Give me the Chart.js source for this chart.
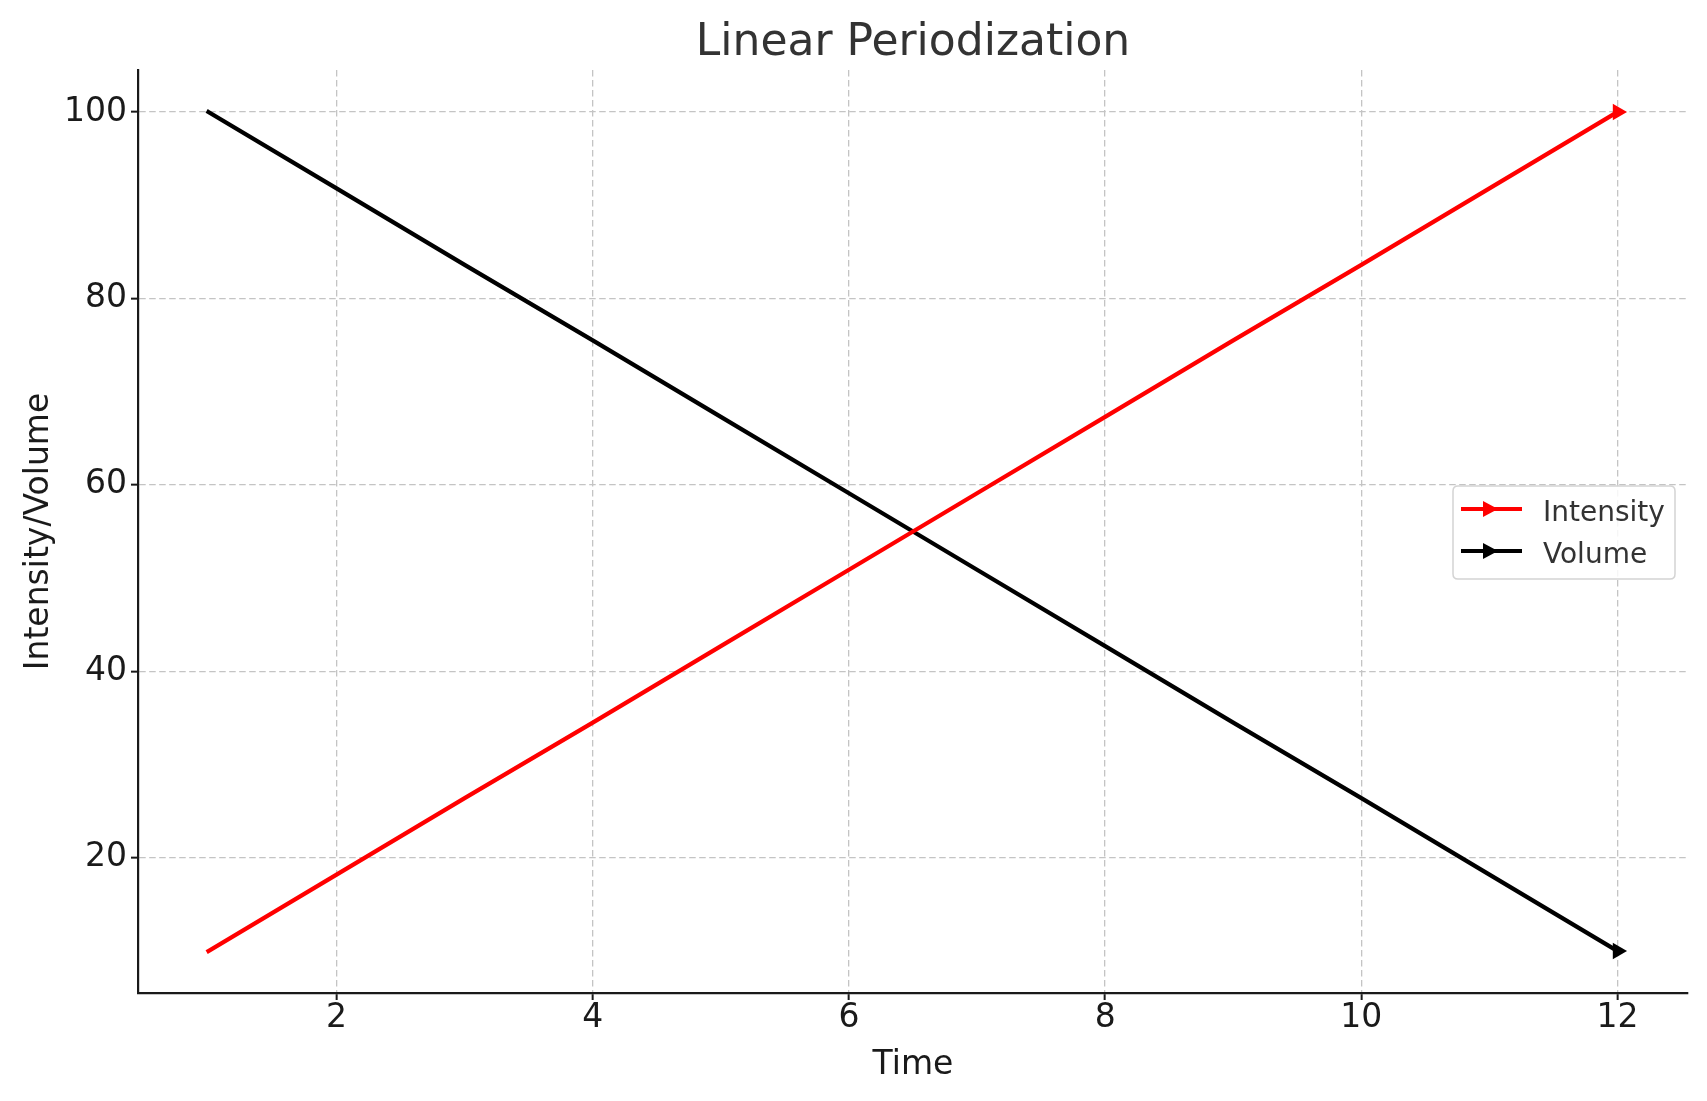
<!DOCTYPE html>
<html>
<head>
<meta charset="utf-8">
<script src="https://cdn.jsdelivr.net/npm/chart.js@4.4.1/dist/chart.umd.min.js"></script>
<style>
  html, body { margin: 0; padding: 0; background: #ffffff; }
  #wrap { width: 1707px; height: 1101px; }
</style>
</head>
<body>
<div id="wrap"><canvas id="c" width="1707" height="1101"></canvas></div>
<script>
// ---- data ----
const timePoints = [1, 2, 3, 4, 5, 6, 7, 8, 9, 10, 11, 12];
const intensity = [10, 18.2, 26.4, 34.5, 42.7, 50.9, 59.1, 67.3, 75.5, 83.6, 91.8, 100];
const volume = [100, 91.8, 83.6, 75.5, 67.3, 59.1, 50.9, 42.7, 34.5, 26.4, 18.2, 10];
const xTickValues = [2, 4, 6, 8, 10, 12];
const yTickValues = [20, 40, 60, 80, 100];
const seriesNames = ['Intensity', 'Volume'];
const seriesColors = ['#ff0000', '#000000'];
const titleText = 'Linear Periodization';
const xTitle = 'Time';
const yTitle = 'Intensity/Volume';

const FONT = "'DejaVu Sans', sans-serif";
const lastIdx = timePoints.length - 1;

function toPoints(vals) { return timePoints.map((t, i) => ({ x: t, y: vals[i] })); }

function makeDataset(label, vals, color) {
  return {
    label: label,
    data: toPoints(vals),
    borderColor: color,
    backgroundColor: color,
    borderWidth: 4.2,
    borderCapStyle: 'square',
    tension: 0,
    fill: false,
    pointStyle: 'triangle',
    rotation: 90,
    pointRadius: (ctx) => ctx.dataIndex === lastIdx ? 9.5 : 0,
    pointHoverRadius: (ctx) => ctx.dataIndex === lastIdx ? 9.5 : 0,
    pointBackgroundColor: color,
    pointBorderColor: color,
    pointBorderWidth: 0
  };
}

// title centred over the plot area (like matplotlib's axes title)
const titlePlugin = {
  id: 'axesTitle',
  afterDraw(chart) {
    const ctx = chart.ctx;
    const a = chart.chartArea;
    ctx.save();
    ctx.fillStyle = '#333333';
    ctx.font = '44px ' + FONT;
    ctx.textAlign = 'center';
    ctx.textBaseline = 'alphabetic';
    ctx.fillText(titleText, (a.left + a.right) / 2, 55);
    ctx.restore();
  }
};

// custom legend drawn from the chart's datasets
const legendPlugin = {
  id: 'mplLegend',
  afterDatasetsDraw(chart) {
    const ctx = chart.ctx;
    const x0 = 1453, y0 = 486, w = 222, h = 93, r = 5;
    ctx.save();
    ctx.beginPath();
    ctx.moveTo(x0 + r, y0);
    ctx.lineTo(x0 + w - r, y0);
    ctx.quadraticCurveTo(x0 + w, y0, x0 + w, y0 + r);
    ctx.lineTo(x0 + w, y0 + h - r);
    ctx.quadraticCurveTo(x0 + w, y0 + h, x0 + w - r, y0 + h);
    ctx.lineTo(x0 + r, y0 + h);
    ctx.quadraticCurveTo(x0, y0 + h, x0, y0 + h - r);
    ctx.lineTo(x0, y0 + r);
    ctx.quadraticCurveTo(x0, y0, x0 + r, y0);
    ctx.closePath();
    ctx.fillStyle = 'rgba(255,255,255,0.85)';
    ctx.fill();
    ctx.lineWidth = 1.5;
    ctx.strokeStyle = '#d4d4d4';
    ctx.stroke();
    chart.data.datasets.forEach((ds, i) => {
      const cy = 509 + i * 42;
      ctx.strokeStyle = ds.borderColor;
      ctx.lineWidth = 4.2;
      ctx.lineCap = 'butt';
      ctx.beginPath();
      ctx.moveTo(1461, cy);
      ctx.lineTo(1522, cy);
      ctx.stroke();
      ctx.fillStyle = ds.borderColor;
      ctx.beginPath();
      ctx.moveTo(1483, cy - 8);
      ctx.lineTo(1498, cy);
      ctx.lineTo(1483, cy + 8);
      ctx.closePath();
      ctx.fill();
      ctx.fillStyle = '#333333';
      ctx.font = '28px ' + FONT;
      ctx.textBaseline = 'alphabetic';
      ctx.textAlign = 'left';
      ctx.fillText(ds.label, 1543, cy + 12);
    });
    ctx.restore();
  }
};

const chart = new Chart(document.getElementById('c'), {
  type: 'line',
  data: {
    datasets: [
      makeDataset(seriesNames[0], intensity, seriesColors[0]),
      makeDataset(seriesNames[1], volume, seriesColors[1])
    ]
  },
  options: {
    responsive: false,
    animation: false,
    devicePixelRatio: 1,
    layout: { padding: { left: 0, right: 19, top: 70, bottom: 0 } },
    plugins: {
      legend: { display: false },
      tooltip: { enabled: false },
      title: { display: false }
    },
    scales: {
      x: {
        type: 'linear',
        min: 0.45,
        max: 12.55,
        afterBuildTicks: (s) => { s.ticks = xTickValues.map(v => ({ value: v })); },
        afterFit: (s) => { s.height = 108; },
        ticks: {
          color: '#1a1a1a',
          font: { family: FONT, size: 33, lineHeight: 1 },
          padding: 2,
          maxRotation: 0,
          autoSkip: false,
          callback: (v) => String(v)
        },
        grid: {
          color: '#c4c4c4',
          lineWidth: 1.3,
          tickColor: '#1a1a1a',
          tickLength: 7,
          tickWidth: 2,
          tickBorderDash: []
        },
        border: { display: true, color: '#1a1a1a', width: 2.2, dash: [6.5, 3.5] },
        title: {
          display: true,
          text: xTitle,
          color: '#1a1a1a',
          font: { family: FONT, size: 33, lineHeight: 1.2 },
          padding: { top: 0, bottom: 15.5 }
        }
      },
      y: {
        type: 'linear',
        min: 5.5,
        max: 104.5,
        afterBuildTicks: (s) => { s.ticks = yTickValues.map(v => ({ value: v })); },
        afterFit: (s) => { s.width = 138; },
        ticks: {
          color: '#1a1a1a',
          font: { family: FONT, size: 33, lineHeight: 1 },
          padding: 4,
          autoSkip: false,
          callback: (v) => String(v)
        },
        grid: {
          color: '#c4c4c4',
          lineWidth: 1.3,
          tickColor: '#1a1a1a',
          tickLength: 7,
          tickWidth: 2,
          tickBorderDash: []
        },
        border: { display: true, color: '#1a1a1a', width: 2.2, dash: [6.5, 3.5] },
        title: {
          display: true,
          text: yTitle,
          color: '#1a1a1a',
          font: { family: FONT, size: 33, lineHeight: 1.2 },
          padding: { top: 20, bottom: 0 }
        }
      }
    }
  },
  plugins: [legendPlugin, titlePlugin]
});
</script>
</body>
</html>
